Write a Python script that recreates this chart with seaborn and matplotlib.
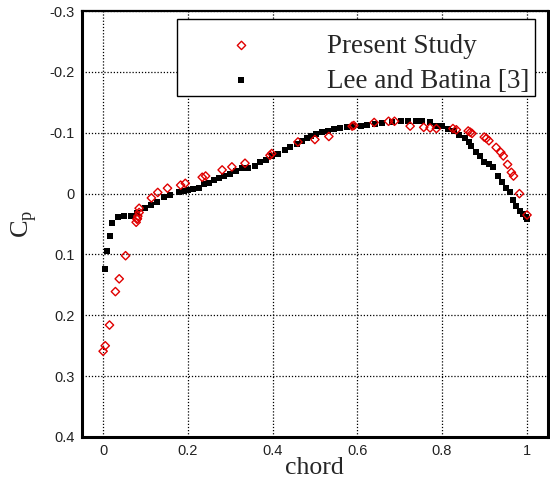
import numpy as np
import pandas as pd
import matplotlib
matplotlib.use("Agg")
import matplotlib.pyplot as plt
import seaborn as sns
from matplotlib.ticker import MultipleLocator
from matplotlib.patches import Rectangle

# Lee and Batina [3]
lee_x = [0.005, 0.0085, 0.0156, 0.020, 0.034, 0.049, 0.065, 0.081, 0.098, 0.114, 0.128,
         0.143, 0.159, 0.180, 0.191, 0.201, 0.212, 0.226, 0.238, 0.249, 0.261, 0.273,
         0.286, 0.300, 0.314, 0.328, 0.342, 0.358, 0.371, 0.384, 0.399, 0.413, 0.430,
         0.441, 0.458, 0.470, 0.481, 0.491, 0.503, 0.516, 0.530, 0.546, 0.560, 0.575,
         0.591, 0.608, 0.623, 0.641, 0.659, 0.681, 0.703, 0.720, 0.738, 0.754, 0.771,
         0.787, 0.800, 0.814, 0.829, 0.841, 0.854, 0.864, 0.869, 0.881, 0.890, 0.900,
         0.912, 0.921, 0.932, 0.941, 0.951, 0.960, 0.968, 0.976, 0.984, 0.991, 0.998, 1.0]
lee_cp = [0.124, 0.095, 0.070, 0.049, 0.039, 0.037, 0.037, 0.031, 0.023, 0.019, 0.013,
          0.005, 0.0025, -0.002, -0.004, -0.006, -0.007, -0.010, -0.016, -0.018, -0.022, -0.025,
          -0.029, -0.033, -0.037, -0.042, -0.043, -0.045, -0.052, -0.056, -0.062, -0.066, -0.071,
          -0.077, -0.081, -0.086, -0.092, -0.095, -0.098, -0.101, -0.103, -0.106, -0.108, -0.110,
          -0.111, -0.112, -0.113, -0.115, -0.116, -0.118, -0.119, -0.119, -0.119, -0.119, -0.117,
          -0.111, -0.111, -0.106, -0.103, -0.096, -0.091, -0.085, -0.078, -0.069, -0.062, -0.052,
          -0.048, -0.044, -0.029, -0.019, -0.010, -0.003, 0.011, 0.021, 0.029, 0.034, 0.039, 0.041]

# Present Study
ps_x = [0.000, 0.005, 0.015, 0.029, 0.038, 0.053, 0.078, 0.080, 0.081, 0.082, 0.085, 0.085,
        0.114, 0.129, 0.152, 0.183, 0.194, 0.234, 0.242, 0.281, 0.304, 0.335, 0.394, 0.398,
        0.460, 0.500, 0.533, 0.588, 0.592, 0.640, 0.674, 0.688, 0.725, 0.757, 0.772, 0.787,
        0.826, 0.834, 0.862, 0.867, 0.871, 0.900, 0.905, 0.911, 0.928, 0.939, 0.945, 0.955,
        0.964, 0.969, 0.983, 1.001]
ps_cp = [0.259, 0.250, 0.216, 0.161, 0.140, 0.102, 0.047, 0.042, 0.041, 0.037, 0.031, 0.024,
         0.007, -0.002, -0.009, -0.014, -0.017, -0.027, -0.029, -0.039, -0.044, -0.050, -0.063, -0.066,
         -0.085, -0.089, -0.094, -0.111, -0.112, -0.117, -0.119, -0.119, -0.111, -0.109, -0.108, -0.107,
         -0.107, -0.105, -0.103, -0.101, -0.099, -0.093, -0.091, -0.087, -0.076, -0.068, -0.062, -0.048,
         -0.035, -0.029, 0.000, 0.035]

x_ticks = [0, 0.2, 0.4, 0.6, 0.8, 1.0]
x_labels = ["0", "0.2", "0.4", "0.6", "0.8", "1"]
y_ticks = [-0.3, -0.2, -0.1, 0, 0.1, 0.2, 0.3, 0.4]
y_labels = ["-0.3", "-0.2", "-0.1", "0", "0.1", "0.2", "0.3", "0.4"]

sns.set_theme(style="white")
plt.rcParams["font.family"] = ["Liberation Sans", "DejaVu Sans"]

fig = plt.figure(figsize=(5.5, 4.79), dpi=100)
ax = fig.add_axes([0.149, 0.0877, 0.847, 0.889])

df_ps = pd.DataFrame({"chord": ps_x, "cp": ps_cp})
df_lee = pd.DataFrame({"chord": lee_x, "cp": lee_cp})

sns.scatterplot(data=df_ps, x="chord", y="cp", ax=ax, marker="D", s=18,
                facecolor="none", edgecolor="#e00000", linewidth=1.0,
                label="Present Study", zorder=4)
sns.scatterplot(data=df_lee, x="chord", y="cp", ax=ax, marker="s", s=24,
                color="black", edgecolor="black", linewidth=0,
                label="Lee and Batina [3]", zorder=3)

ax.set_xlim(-0.05, 1.05)
ax.set_ylim(0.4, -0.3)
ax.set_xticks(x_ticks)
ax.set_xticklabels(x_labels)
ax.set_yticks(y_ticks)
ax.set_yticklabels(y_labels)
ax.xaxis.set_minor_locator(MultipleLocator(0.05))
ax.yaxis.set_minor_locator(MultipleLocator(0.02))

ax.grid(True, which="major", color="black", linestyle=(0, (1, 1.5)), linewidth=0.9)
ax.tick_params(axis="both", which="major", direction="in", length=11, width=2.2,
               labelsize=10.5, colors="black", pad=5)
ax.tick_params(axis="both", which="minor", direction="in", length=6, width=1.0, colors="black")
ax.tick_params(top=False, right=False, which="both")
ax.tick_params(axis="both", which="major", labelcolor="#222222")

for side in ["left", "bottom", "right"]:
    ax.spines[side].set_linewidth(2.2)
    ax.spines[side].set_color("black")
ax.spines["top"].set_linewidth(1.6)
ax.spines["top"].set_color("black")

ax.set_xlabel("chord", family=["Liberation Serif"], fontsize=18.5)
ax.xaxis.set_label_coords(0.5, -0.047)
ax.set_ylabel(r"C$_{\mathregular{p}}$", family=["Liberation Serif"], fontsize=19, labelpad=8)

# legend box
frame = Rectangle((0.204, 0.800), 0.768, 0.181, transform=ax.transAxes,
                  facecolor="white", edgecolor="black", linewidth=1.0, zorder=5)
ax.add_patch(frame)

leg = ax.legend(loc="center right", bbox_to_anchor=(0.960, 0.877), frameon=False,
                prop={"family": "Liberation Serif", "size": 19.5},
                handlelength=4.5, handletextpad=0.9, borderpad=0, labelspacing=0.37,
                markerscale=1.0, borderaxespad=0)
leg.set_zorder(6)

fig.savefig("out.png", dpi=100)
